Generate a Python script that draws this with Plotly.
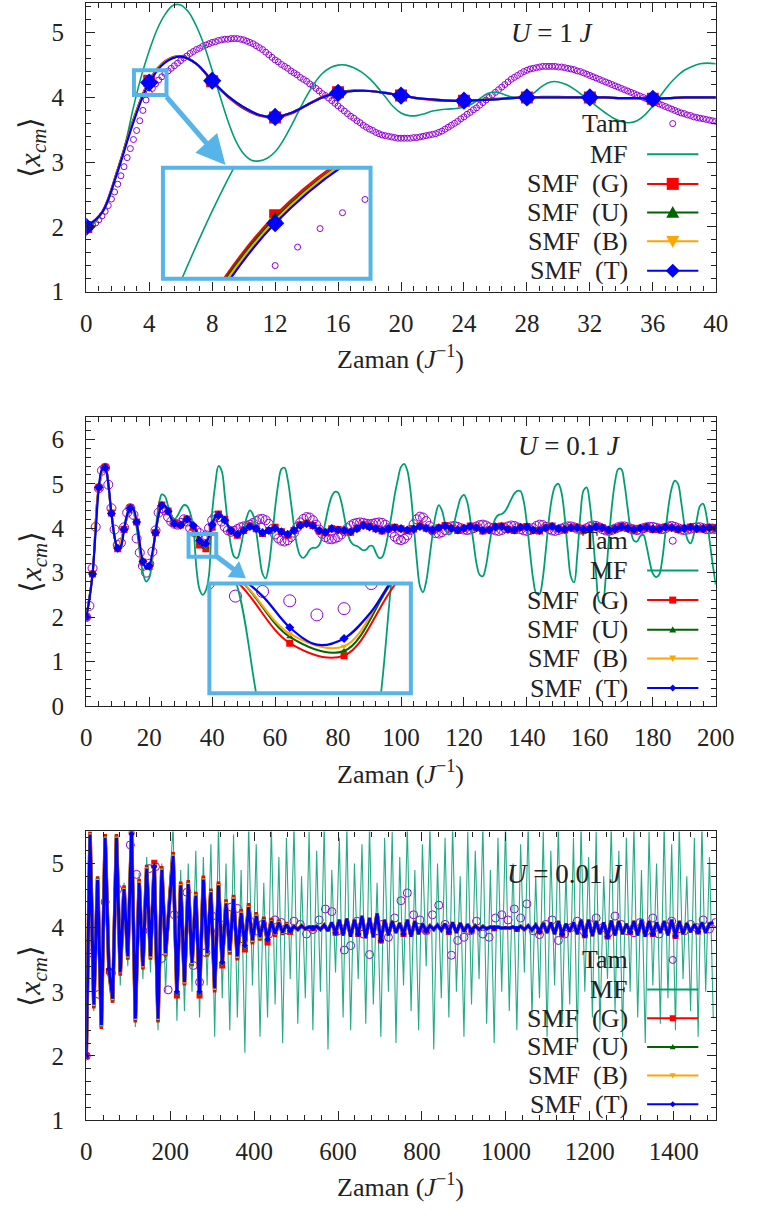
import numpy as np
import plotly.graph_objects as go

W, H = 757, 1227
SERIF = "Liberation Serif"
INK = "#222222"

C_TAM, C_MF = "#9400D3", "#009E73"
C_G, C_U, C_B, C_T = "#FF0000", "#006400", "#FFA500", "#0000FF"
C_BOX = "#56B4E9"

# ======================= U = 1 J =======================
tam1 = [
    2.00, 2.01, 2.03, 2.06, 2.11, 2.17, 2.24, 2.33, 2.43, 2.54,
    2.66, 2.79, 2.93, 3.07, 3.21, 3.35, 3.49, 3.64, 3.80, 3.96,
    4.07, 4.14, 4.21, 4.27, 4.32, 4.37, 4.41, 4.45, 4.49, 4.53,
    4.57, 4.61, 4.64, 4.68, 4.71, 4.74, 4.76, 4.79, 4.81, 4.83,
    4.85, 4.86, 4.88, 4.89, 4.90, 4.90, 4.91, 4.91, 4.91, 4.90,
    4.89, 4.87, 4.85, 4.83, 4.80, 4.77, 4.74, 4.70, 4.66, 4.62,
    4.58, 4.55, 4.51, 4.48, 4.45, 4.41, 4.38, 4.35, 4.31, 4.28,
    4.25, 4.21, 4.18, 4.14, 4.10, 4.06, 4.03, 3.99, 3.95, 3.91,
    3.87, 3.83, 3.79, 3.75, 3.71, 3.68, 3.64, 3.61, 3.57, 3.54,
    3.51, 3.49, 3.46, 3.44, 3.42, 3.41, 3.40, 3.39, 3.38, 3.37,
    3.37, 3.37, 3.37, 3.37, 3.38, 3.38, 3.39, 3.40, 3.41, 3.42,
    3.43, 3.44, 3.46, 3.48, 3.51, 3.54, 3.57, 3.60, 3.63, 3.67,
    3.70, 3.74, 3.77, 3.81, 3.84, 3.88, 3.92, 3.96, 4.00, 4.04,
    4.08, 4.12, 4.16, 4.20, 4.24, 4.28, 4.31, 4.34, 4.37, 4.40,
    4.42, 4.44, 4.45, 4.46, 4.47, 4.48, 4.48, 4.48, 4.48, 4.48,
    4.47, 4.47, 4.46, 4.45, 4.44, 4.43, 4.41, 4.40, 4.38, 4.36,
    4.34, 4.32, 4.30, 4.28, 4.26, 4.24, 4.22, 4.20, 4.18, 4.16,
    4.14, 4.12, 4.10, 4.08, 4.06, 4.04, 4.02, 4.00, 3.98, 3.96,
    3.94, 3.92, 3.90, 3.88, 3.86, 3.84, 3.82, 3.80, 3.78, 3.76,
    3.75, 3.73, 3.72, 3.70, 3.69, 3.68, 3.67, 3.66, 3.65, 3.64,
    3.63,
]
mf1 = [
    2.00, 2.06, 2.22, 2.48, 2.85, 3.30, 3.85, 4.33, 4.72, 5.05,
    5.28, 5.42, 5.43, 5.32, 5.10, 4.80, 4.42, 4.02, 3.64, 3.33,
    3.13, 3.03, 3.02, 3.06, 3.16, 3.33, 3.55, 3.79, 4.02, 4.22,
    4.37, 4.46, 4.50, 4.50, 4.46, 4.39, 4.29, 4.16, 4.01, 3.86,
    3.76, 3.72, 3.72, 3.75, 3.79, 3.81, 3.82, 3.83, 3.85, 3.90,
    3.98, 4.06, 4.08, 4.05, 4.01, 3.99, 4.01, 4.08, 4.18, 4.24,
    4.24, 4.20, 4.13, 4.04, 3.95, 3.85, 3.76, 3.68, 3.63, 3.61,
    3.64, 3.73, 3.87, 4.03, 4.19, 4.32, 4.42, 4.48, 4.52, 4.53,
    4.52,
]
smf1_G = [
    2.00, 2.23, 2.89, 3.66, 4.26, 4.56, 4.64, 4.52, 4.25, 4.01,
    3.83, 3.72, 3.69, 3.75, 3.88, 4.01, 4.08, 4.11, 4.10, 4.07,
    4.03, 3.99, 3.96, 3.95, 3.95, 3.96, 3.98, 3.99, 4.00, 4.01,
    4.01, 4.00, 4.00, 4.00, 3.99, 3.99, 3.98, 3.99, 4.00, 4.00,
    4.00,
]
smf1_U = [
    2.00, 2.22, 2.88, 3.65, 4.25, 4.55, 4.63, 4.52, 4.25, 4.02,
    3.84, 3.73, 3.70, 3.76, 3.88, 4.00, 4.08, 4.10, 4.10, 4.07,
    4.03, 3.99, 3.97, 3.95, 3.95, 3.96, 3.97, 3.99, 4.00, 4.00,
    4.00, 4.00, 4.00, 4.00, 3.99, 3.99, 3.98, 3.99, 4.00, 4.00,
    4.00,
]
smf1_B = [
    2.00, 2.22, 2.87, 3.64, 4.24, 4.55, 4.63, 4.52, 4.26, 4.02,
    3.85, 3.73, 3.70, 3.76, 3.88, 4.00, 4.07, 4.10, 4.10, 4.07,
    4.03, 3.99, 3.97, 3.95, 3.95, 3.96, 3.97, 3.99, 4.00, 4.00,
    4.00, 4.00, 4.00, 4.00, 3.99, 3.99, 3.98, 3.99, 4.00, 4.00,
    4.00,
]
smf1_T = [
    2.00, 2.22, 2.86, 3.62, 4.23, 4.54, 4.63, 4.52, 4.26, 4.02,
    3.85, 3.73, 3.70, 3.76, 3.88, 4.00, 4.07, 4.10, 4.10, 4.07,
    4.03, 3.99, 3.97, 3.95, 3.95, 3.96, 3.97, 3.99, 4.00, 4.00,
    4.00, 4.00, 4.00, 4.00, 3.99, 3.99, 3.98, 3.99, 4.00, 4.00,
    4.00,
]
t_tam1 = np.linspace(0, 40, 201)
t_mf1 = np.linspace(0, 40, 81)
t_smf1 = np.arange(0, 41)

# ======================= U = 0.1 J =======================
tam2 = [
    2.00, 2.25, 3.10, 4.03, 4.90, 5.30, 5.36, 4.98, 4.45, 3.97,
    3.62, 3.67, 4.02, 4.35, 4.45, 4.30, 3.77, 3.45, 3.15, 3.00,
    3.20, 3.47, 3.95, 4.35, 4.45, 4.40, 4.25, 4.15, 4.10, 4.08,
    4.12, 4.20, 4.15, 4.00, 3.92, 3.95, 3.89, 3.80, 3.84, 4.00,
    4.18, 4.27, 4.25, 4.15, 4.03, 3.95, 3.92, 3.94, 3.98, 4.02,
    4.04, 4.05, 4.08, 4.12, 4.16, 4.20, 4.21, 4.18, 4.10, 3.98,
    3.86, 3.77, 3.72, 3.70, 3.73, 3.80, 3.90, 4.02, 4.13, 4.21,
    4.25, 4.24, 4.18, 4.08, 3.97, 3.87, 3.80, 3.76, 3.75, 3.77,
    3.80, 3.86, 3.93, 4.00, 4.06, 4.10, 4.12, 4.13, 4.12, 4.10,
    4.09, 4.10, 4.12, 4.13, 4.12, 4.08, 4.00, 3.90, 3.81, 3.75,
    3.73, 3.76, 3.84, 3.96, 4.09, 4.20, 4.26, 4.24, 4.16, 4.05,
    3.95, 3.89, 3.88, 3.91, 3.96, 4.01, 4.04, 4.05, 4.03, 4.00,
    3.97, 3.96, 3.97, 4.00, 4.04, 4.07, 4.08, 4.06, 4.02, 3.98,
    3.95, 3.94, 3.96, 4.00, 4.04, 4.06, 4.05, 4.02, 3.98, 3.95,
    3.94, 3.96, 4.00, 4.05, 4.08, 4.07, 4.03, 3.98, 3.95, 3.94,
    3.96, 3.99, 4.02, 4.04, 4.04, 4.02, 3.99, 3.97, 3.97, 4.00,
    4.04, 4.06, 4.05, 4.02, 3.98, 3.95, 3.94, 3.96, 3.99, 4.02,
    4.04, 4.04, 4.02, 3.99, 3.97, 3.96, 3.97, 4.00, 4.02, 4.03,
    4.03, 4.01, 3.99, 3.98, 4.00, 4.04, 4.05, 4.03, 4.00, 3.97,
    3.96, 3.97, 3.99, 4.01, 4.02, 4.02, 4.00, 3.98, 3.98, 3.99,
    3.98,
]
mf2 = [
    2.00, 2.40, 2.97, 3.95, 4.92, 5.32, 5.36, 5.00, 4.33, 3.78,
    3.52, 3.58, 3.97, 4.35, 4.52, 4.42, 4.00, 3.45, 3.00, 2.80,
    2.88, 3.30, 3.95, 4.50, 4.76, 4.72, 4.50, 4.28, 4.20, 4.28,
    4.42, 4.52, 4.50, 4.35, 4.02, 3.10, 2.62, 2.50, 2.60, 2.95,
    4.35, 5.00, 5.40, 5.30, 4.75, 4.10, 3.60, 3.36, 3.33, 3.55,
    3.92, 4.25, 4.40, 4.30, 3.92, 3.40, 2.98, 2.87, 3.15, 3.75,
    4.45, 5.00, 5.33, 5.36, 5.10, 4.60, 4.05, 3.60, 3.38, 3.33,
    3.40, 3.52, 3.56, 3.56, 3.62, 3.82, 4.15, 4.48, 4.72, 4.82,
    4.80, 4.60, 4.25, 3.90, 3.70, 3.62, 3.60, 3.55, 3.50, 3.52,
    3.60, 3.60, 3.45, 3.33, 3.35, 3.55, 3.90, 4.30, 4.75, 5.10,
    5.38, 5.45, 5.30, 4.85, 4.10, 3.30, 2.70, 2.56, 2.80, 3.30,
    3.85, 4.30, 4.52, 4.40, 4.10, 3.86, 3.90, 4.15, 4.45, 4.68,
    4.75, 4.60, 4.20, 3.70, 3.20, 2.95, 2.92, 3.15, 3.60, 4.00,
    4.22, 4.30, 4.32, 4.38, 4.50, 4.65, 4.78, 4.84, 4.83, 4.60,
    4.10, 3.45, 2.85, 2.53, 2.52, 2.85, 3.50, 4.20, 4.70, 4.95,
    5.00, 4.80, 4.25, 3.50, 2.90, 2.78, 3.40, 4.30, 4.85, 4.92,
    4.55, 3.80, 2.95, 2.35, 2.32, 2.85, 3.70, 4.50, 5.05, 5.33,
    5.33, 5.00, 4.45, 3.95, 3.72, 3.70, 3.82, 3.85, 3.60, 3.25,
    2.98, 2.90, 2.95, 3.30, 3.90, 4.50, 4.90, 5.07, 5.00, 4.60,
    4.10, 3.75, 3.66, 3.85, 4.20, 4.50, 4.55, 4.30, 3.75, 3.20,
    2.73,
]
smf2_T = [
    2.00, 2.40, 2.97, 3.95, 4.92, 5.32, 5.36, 5.00, 4.33, 3.80,
    3.55, 3.60, 3.97, 4.30, 4.45, 4.42, 4.14, 3.65, 3.25, 3.10,
    3.15, 3.45, 3.90, 4.30, 4.51, 4.50, 4.38, 4.22, 4.10, 4.06,
    4.07, 4.15, 4.20, 4.15, 4.06, 3.92, 3.72, 3.61, 3.65, 3.82,
    4.08, 4.25, 4.29, 4.27, 4.18, 4.06, 3.95, 3.88, 3.86, 3.90,
    3.95, 4.00, 4.04, 4.03, 3.99, 3.94, 3.90, 3.91, 3.95, 3.98,
    4.00, 3.96, 3.92, 3.88, 3.86, 3.89, 3.95, 4.01, 4.06, 4.09,
    4.10, 4.09, 4.06, 4.00, 3.95, 3.92, 3.91, 3.95, 3.99, 3.98,
    3.96, 3.96, 3.95, 3.94, 3.92, 3.95, 3.99, 4.03, 4.06, 4.05,
    4.03, 4.01, 3.99, 3.97, 3.95, 3.96, 3.99, 4.00, 4.01, 4.00,
    3.99, 3.98, 3.96, 3.95, 3.98, 4.02, 4.04, 4.03, 4.00, 3.97,
    3.96, 3.98, 4.01, 4.04, 4.05, 4.03, 4.00, 3.97, 3.96, 3.97,
    4.00, 4.03, 4.04, 4.03, 4.01, 3.98, 3.95, 3.94, 3.96, 4.00,
    4.03, 4.05, 4.04, 4.01, 3.97, 3.95, 3.96, 3.99, 4.02, 4.04,
    4.03, 4.00, 3.96, 3.94, 3.95, 3.98, 4.01, 4.03, 4.04, 4.02,
    3.99, 3.97, 3.97, 3.99, 4.01, 4.02, 4.01, 3.99, 3.97, 3.96,
    3.98, 4.01, 4.03, 4.03, 4.01, 3.98, 3.96, 3.96, 3.98, 4.01,
    4.03, 4.02, 4.00, 3.98, 3.97, 3.98, 4.00, 4.02, 4.02, 4.00,
    3.98, 3.97, 3.98, 4.00, 4.02, 4.02, 4.01, 3.99, 3.98, 3.98,
    4.00, 4.01, 4.02, 4.01, 3.99, 3.98, 3.99, 4.00, 4.01, 4.01,
    4.00,
]
smf2_G = [
    2.00, 2.97, 4.92, 5.37, 4.34, 3.54, 3.97, 4.46, 4.14, 3.24,
    3.14, 3.90, 4.52, 4.39, 4.11, 4.07, 4.21, 4.02, 3.62, 3.54,
    4.02, 4.32, 4.20, 3.94, 3.84, 3.95, 4.05, 3.99, 3.88, 3.95,
    4.02, 3.92, 3.84, 3.95, 4.08, 4.11, 4.06, 3.94, 3.90, 3.99,
    3.97, 3.94, 3.91, 4.00, 4.07, 4.04, 3.99, 3.94, 3.99, 4.02,
    3.99, 3.95, 3.98, 4.05, 4.00, 3.95, 4.01, 4.06, 4.00, 3.95,
    4.00, 4.05, 4.01, 3.94, 3.96, 4.04, 4.05, 3.97, 3.95, 4.02,
    4.04, 3.95, 3.94, 4.01, 4.05, 3.99, 3.96, 4.01, 4.02, 3.96,
    3.98, 4.04, 4.01, 3.95, 3.98, 4.04, 4.00, 3.96, 4.00, 4.03,
    3.97, 3.98, 4.03, 4.01, 3.97, 4.00, 4.03, 3.98, 3.99, 4.02,
    4.00,
]
smf2_U = [
    2.00, 2.97, 4.92, 5.36, 4.33, 3.55, 3.97, 4.45, 4.14, 3.25,
    3.15, 3.90, 4.51, 4.38, 4.10, 4.07, 4.20, 4.05, 3.66, 3.57,
    4.06, 4.29, 4.18, 3.95, 3.86, 3.95, 4.04, 3.99, 3.90, 3.95,
    4.00, 3.92, 3.86, 3.95, 4.06, 4.10, 4.06, 3.95, 3.91, 3.99,
    3.96, 3.95, 3.92, 3.99, 4.06, 4.03, 3.99, 3.95, 3.99, 4.01,
    3.99, 3.96, 3.98, 4.04, 4.00, 3.96, 4.01, 4.05, 4.00, 3.96,
    4.00, 4.04, 4.01, 3.95, 3.96, 4.03, 4.04, 3.97, 3.96, 4.02,
    4.03, 3.96, 3.95, 4.01, 4.04, 3.99, 3.97, 4.01, 4.02, 3.97,
    3.98, 4.03, 4.01, 3.96, 3.98, 4.03, 4.00, 3.97, 4.00, 4.02,
    3.98, 3.98, 4.02, 4.01, 3.98, 4.00, 4.02, 3.98, 3.99, 4.01,
    4.00,
]
smf2_B = [
    2.00, 2.97, 4.92, 5.36, 4.33, 3.55, 3.97, 4.45, 4.14, 3.25,
    3.15, 3.90, 4.51, 4.38, 4.10, 4.07, 4.20, 4.05, 3.68, 3.60,
    4.07, 4.29, 4.18, 3.95, 3.86, 3.95, 4.04, 3.99, 3.90, 3.95,
    4.00, 3.92, 3.86, 3.95, 4.06, 4.10, 4.06, 3.95, 3.91, 3.99,
    3.96, 3.95, 3.92, 3.99, 4.06, 4.03, 3.99, 3.95, 3.99, 4.01,
    3.99, 3.96, 3.98, 4.03, 4.00, 3.96, 4.01, 4.05, 4.00, 3.96,
    4.00, 4.04, 4.01, 3.95, 3.96, 4.03, 4.04, 3.97, 3.96, 4.02,
    4.03, 3.96, 3.95, 4.01, 4.04, 3.99, 3.97, 4.01, 4.02, 3.97,
    3.98, 4.03, 4.01, 3.96, 3.98, 4.03, 4.00, 3.97, 4.00, 4.02,
    3.98, 3.98, 4.02, 4.01, 3.98, 4.00, 4.02, 3.98, 3.99, 4.01,
    4.00,
]
t2 = np.arange(0, 201)
t2e = np.arange(0, 201, 2)

# ======================= U = 0.01 J =======================
tam3 = [
    2.00, 3.60, 2.96, 4.40, 3.29, 4.60, 4.10, 5.29, 4.83, 3.95,
    4.92, 4.95, 3.52, 3.03, 4.20, 3.85, 4.55, 3.41, 3.15, 3.61,
    4.18, 3.95, 4.05, 4.32, 4.30, 3.82, 4.10, 3.95, 4.05, 3.90,
    4.12, 4.08, 3.96, 4.10, 4.05, 3.90, 3.97, 4.12, 4.29, 4.25,
    3.95, 3.65, 3.72, 4.10, 3.90, 3.58, 3.95, 4.05, 3.85, 4.15,
    4.42, 4.54, 4.20, 4.12, 3.95, 4.20, 4.35, 4.05, 3.57, 3.80,
    3.85, 3.95, 4.10, 3.90, 3.85, 4.15, 4.20, 4.12, 4.29, 4.15,
    4.37, 3.95, 3.89, 4.05, 4.12, 3.80, 3.90, 4.00, 4.10, 3.95,
    4.05, 4.15, 4.00, 3.92, 4.18, 4.05, 3.95, 3.92, 4.08, 3.95,
    4.15, 3.90, 4.02, 4.10, 3.98, 3.95, 4.05, 4.00, 4.12, 3.98,
    4.08,
]
mf3 = [
    2.00, 5.45, 2.70, 4.80, 2.45, 5.40, 3.20, 2.85, 5.45, 3.10,
    4.70, 3.40, 5.50, 2.45, 4.85, 3.20, 5.10, 3.30, 5.05, 2.40,
    5.00, 3.00, 4.60, 5.60, 2.55, 4.90, 2.70, 5.00, 3.00, 5.20,
    2.60, 5.10, 3.10, 5.30, 2.30, 5.60, 2.90, 5.00, 2.40, 5.45,
    2.60, 4.90, 2.05, 5.60, 3.10, 5.30, 2.30, 4.70, 2.60, 5.60,
    2.80, 5.10, 2.20, 5.40, 3.20, 5.60, 2.50, 4.80, 2.90, 5.50,
    2.40, 5.20, 3.00, 5.60, 2.10, 4.90, 3.30, 5.40, 2.60, 5.60,
    2.40, 5.00, 3.20, 5.30, 2.50, 5.60, 2.80, 4.70, 2.30, 5.40,
    3.00, 5.50, 2.20, 5.10, 3.10, 5.60, 2.70, 4.90, 2.40, 5.30,
    3.40, 5.60, 2.10, 5.00, 2.90, 5.40, 2.60, 5.60, 3.00, 4.80,
    2.30, 5.50, 2.80, 5.20, 3.20, 5.60, 2.50, 4.90, 2.20, 5.40,
    3.00, 5.60, 2.70, 5.00, 2.40, 5.30, 3.30, 5.60, 2.60, 4.80,
    2.90, 5.50, 2.30, 5.20, 3.10, 5.60, 2.50, 4.90, 2.80, 5.40,
    2.20, 5.60, 3.00, 5.10, 2.60, 5.50, 2.40, 4.80, 3.20, 5.60,
    2.70, 5.20, 2.30, 5.40, 3.00, 5.60, 2.60, 4.90, 2.20, 5.50,
    3.10, 5.00, 2.50, 5.60, 2.90, 5.30, 2.40, 5.60, 3.20, 4.80,
    2.70, 5.40, 2.30, 5.60, 3.00, 5.10, 2.60,
]
# the four SMF variants split apart only during the early strong oscillations
smf3_T_head = [
    2.00, 5.45, 2.80, 4.74, 2.48, 5.40, 3.35, 2.89, 5.40, 3.30,
    4.60, 3.55, 5.46, 2.58, 4.70, 3.40, 4.92, 3.55, 4.95, 2.58,
    4.90, 3.60, 4.35, 5.12, 3.00, 4.66, 3.15, 4.68, 3.45, 4.50,
    3.00, 4.75, 3.60, 4.55, 3.05, 4.66, 3.46, 4.38, 3.64, 4.45,
    3.55, 4.23, 3.72, 4.32, 3.80, 4.18, 3.85, 4.12, 3.82, 4.10,
    3.90, 4.08, 3.92, 4.05, 3.95,
]
smf3_G_head = [
    2.00, 5.50, 2.74, 4.80, 2.42, 5.46, 3.32, 2.83, 5.46, 3.25,
    4.66, 3.50, 5.52, 2.52, 4.76, 3.35, 4.98, 3.50, 5.01, 2.52,
    4.96, 3.55, 4.40, 5.18, 2.94, 4.72, 3.10, 4.74, 3.40, 4.56,
    2.94, 4.81, 3.55, 4.61, 2.99, 4.72, 3.41, 4.44, 3.58, 4.51,
    3.49, 4.29, 3.66, 4.38, 3.74, 4.24, 3.80, 4.17, 3.77, 4.15,
    3.86, 4.12, 3.89, 4.08, 3.93,
]
smf3_U_head = [
    2.00, 5.48, 2.77, 4.77, 2.45, 5.43, 3.33, 2.86, 5.43, 3.28,
    4.63, 3.52, 5.49, 2.55, 4.73, 3.37, 4.95, 3.52, 4.98, 2.55,
    4.93, 3.57, 4.37, 5.15, 2.97, 4.69, 3.12, 4.71, 3.42, 4.53,
    2.97, 4.78, 3.57, 4.58, 3.02, 4.69, 3.43, 4.41, 3.61, 4.48,
    3.52, 4.26, 3.69, 4.35, 3.77, 4.21, 3.82, 4.14, 3.80, 4.12,
    3.88, 4.10, 3.90, 4.06, 3.94,
]
smf3_B_head = [
    2.00, 5.47, 2.78, 4.76, 2.46, 5.42, 3.34, 2.87, 5.42, 3.29,
    4.62, 3.53, 5.48, 2.56, 4.72, 3.38, 4.94, 3.53, 4.97, 2.56,
    4.92, 3.58, 4.36, 5.14, 2.98, 4.68, 3.13, 4.70, 3.43, 4.52,
    2.98, 4.77, 3.58, 4.57, 3.03, 4.68, 3.44, 4.40, 3.62, 4.47,
    3.53, 4.25, 3.70, 4.34, 3.78, 4.20, 3.83, 4.13, 3.81, 4.11,
    3.89, 4.09, 3.91, 4.06, 3.94,
]
smf3_tail = [
    4.02, 3.97, 4.03, 3.98, 4.01, 3.99, 4.02, 3.97, 4.04, 3.95,
    4.08, 3.92, 4.12, 3.88, 4.14, 3.86, 4.12, 3.90, 4.18, 3.84,
    4.15, 3.85, 4.22, 3.80, 4.12, 3.88, 4.10, 3.92, 4.07, 3.90,
    4.12, 3.86, 4.10, 3.90, 4.06, 3.95, 4.03, 3.97, 4.04, 3.96,
    4.06, 3.93, 4.08, 3.92, 4.07, 3.94, 4.05, 3.95, 4.03, 3.97,
    4.02, 3.98, 4.01, 3.99, 4.01, 3.99, 4.00, 3.99, 4.01, 3.98,
    4.02, 3.97, 4.03, 3.96, 4.04, 3.94, 4.07, 3.92, 4.08, 3.90,
    4.10, 3.90, 4.06, 3.94, 4.08, 3.90, 4.12, 3.88, 4.12, 3.87,
    4.10, 3.90, 4.08, 3.86, 4.11, 3.88, 4.10, 3.90, 4.06, 3.93,
    4.10, 3.88, 4.12, 3.86, 4.10, 3.90, 4.08, 3.92, 4.10, 3.88,
    4.12, 3.87, 4.10, 3.90, 4.07, 3.93, 4.05, 3.94, 4.08, 3.92,
    4.06, 4.08,
]
smf3_T = smf3_T_head + smf3_tail
smf3_G = smf3_G_head + smf3_tail
smf3_U = smf3_U_head + smf3_tail
smf3_B = smf3_B_head + smf3_tail
t3 = np.arange(0, 1500, 9)
t3_tam = np.arange(0, 1501, 15)

assert len(tam1) == len(t_tam1) and len(mf1) == len(t_mf1)
assert all(len(s) == len(t_smf1) for s in (smf1_G, smf1_U, smf1_B, smf1_T))
assert len(tam2) == len(t2) and len(mf2) == len(t2) and len(smf2_T) == len(t2)
assert all(len(s) == len(t2e) for s in (smf2_G, smf2_U, smf2_B))
assert len(mf3) == len(t3) and len(smf3_T) == len(t3) and len(tam3) == len(t3_tam)


def fx(p):
    return p / W


def fy(p):
    return 1 - p / H


fig = go.Figure()


def tam_trace(t, v, size, xa, ya):
    return go.Scatter(x=t, y=v, mode="markers", xaxis=xa, yaxis=ya, hoverinfo="skip",
                      marker=dict(symbol="circle-open", size=size, color=C_TAM,
                                  line=dict(width=1, color=C_TAM)))


def line_trace(t, v, color, width, xa, ya, shape="spline", opacity=1.0):
    return go.Scatter(x=t, y=v, mode="lines", xaxis=xa, yaxis=ya, hoverinfo="skip",
                      opacity=opacity, line=dict(color=color, width=width, shape=shape))


def mark_trace(t, v, color, symbol, size, xa, ya):
    return go.Scatter(x=t, y=v, mode="markers", xaxis=xa, yaxis=ya, hoverinfo="skip",
                      marker=dict(symbol=symbol, size=size, color=color, line=dict(width=0)))


# ---- panel 1 (main frame + zoom inset)
SMF1 = [(smf1_G, C_G, "square", 12), (smf1_U, C_U, "triangle-up", 12),
        (smf1_B, C_B, "triangle-down", 12), (smf1_T, C_T, "diamond", 14)]
for xa, ya in (("x", "y"), ("x4", "y4")):
    fig.add_trace(tam_trace(t_tam1, tam1, 6, xa, ya))
    fig.add_trace(line_trace(t_mf1, mf1, C_MF, 1.6, xa, ya))
    for vals, col, sym, ms in SMF1:
        fig.add_trace(line_trace(t_smf1, vals, col, 2.2, xa, ya))
        fig.add_trace(mark_trace(t_smf1[0:37:4], vals[0:37:4], col, sym, ms, xa, ya))

# ---- panel 2 (main frame + zoom inset)
for xa, ya, tsz in (("x2", "y2", 9), ("x5", "y5", 12)):
    fig.add_trace(tam_trace(t2, tam2, tsz, xa, ya))
    fig.add_trace(line_trace(t2, mf2, C_MF, 1.8, xa, ya))
    for vals, col, sym, ms in ((smf2_G, C_G, "square", 7), (smf2_U, C_U, "triangle-up", 6),
                               (smf2_B, C_B, "triangle-down", 6)):
        fig.add_trace(line_trace(t2e, vals, col, 2.0, xa, ya))
        fig.add_trace(mark_trace(t2e, vals, col, sym, ms, xa, ya))
    fig.add_trace(line_trace(t2, smf2_T, C_T, 2.2, xa, ya))
    fig.add_trace(mark_trace(t2[::2], smf2_T[::2], C_T, "diamond", 7, xa, ya))

# ---- panel 3
fig.add_trace(tam_trace(t3_tam, tam3, 8, "x3", "y3"))
fig.add_trace(line_trace(t3, mf3, C_MF, 1.1, "x3", "y3", shape="linear", opacity=0.85))
for vals, col, sym, ms, lw in ((smf3_G, C_G, "square", 6, 3.6), (smf3_U, C_U, "triangle-up", 5, 3.4),
                               (smf3_B, C_B, "triangle-down", 5, 3.4), (smf3_T, C_T, "diamond", 5, 3.0)):
    fig.add_trace(line_trace(t3, vals, col, lw, "x3", "y3", shape="linear"))
    fig.add_trace(mark_trace(t3[::6], vals[::6], col, sym, ms, "x3", "y3"))


# ---- axes
XD = [fx(83), fx(734)]


def frame_axis(domain, rng, dtick, mdtick, anchor, standoff):
    return dict(domain=domain, range=rng, dtick=dtick, tick0=0, showgrid=False, zeroline=False,
                showline=True, linewidth=1.4, linecolor=INK, mirror="ticks",
                ticks="inside", ticklen=9, tickwidth=1.1, tickcolor=INK,
                minor=dict(ticks="inside", ticklen=5, tickwidth=1, tickcolor=INK,
                           dtick=mdtick, tick0=0, showgrid=False),
                tickfont=dict(family=SERIF, size=25, color=INK),
                ticklabelstandoff=standoff, anchor=anchor, fixedrange=True)


def hidden_axis(domain, rng, anchor):
    return dict(domain=domain, range=rng, visible=False, anchor=anchor, fixedrange=True)


P1Y = [fy(295), fy(3)]
P2Y = [fy(714), fy(422)]
P3Y = [fy(1133), fy(841)]
IN1 = (162.3, 169.7, 377.0, 282.0)
IN2 = (210.3, 590.3, 418.7, 701.3)

fig.update_layout(
    width=W, height=H, margin=dict(l=0, r=0, t=0, b=0),
    paper_bgcolor="white", plot_bgcolor="white", showlegend=False,
    xaxis=frame_axis(XD, [0, 40], 4, 0.8, "y", 9),
    yaxis=frame_axis(P1Y, [1, 5.46], 1, 0.2, "x", 16),
    xaxis2=frame_axis(XD, [0, 200], 20, 4, "y2", 9),
    yaxis2=frame_axis(P2Y, [0, 6.5], 1, 0.2, "x2", 16),
    xaxis3=frame_axis(XD, [0, 1500], 200, 40, "y3", 9),
    yaxis3=frame_axis(P3Y, [1, 5.5], 1, 0.2, "x3", 16),
    xaxis4=hidden_axis([fx(IN1[0]), fx(IN1[2])], [3.0, 4.85], "y4"),
    yaxis4=hidden_axis([fy(IN1[3]), fy(IN1[1])], [4.02, 4.44], "x4"),
    xaxis5=hidden_axis([fx(IN2[0]), fx(IN2[2])], [33.04, 40.46], "y5"),
    yaxis5=hidden_axis([fy(IN2[3]), fy(IN2[1])], [3.3, 4.0], "x5"),
)

shapes = []
annotations = []

# zoom frames and the regions they magnify
for (x0, y0, x1, y1) in (IN1, IN2):
    shapes.append(dict(type="rect", xref="paper", yref="paper", x0=fx(x0), x1=fx(x1),
                       y0=fy(y1), y1=fy(y0), line=dict(color=C_BOX, width=4)))
shapes.append(dict(type="rect", xref="x", yref="y", x0=3.03, x1=5.1, y0=4.04, y1=4.42,
                   line=dict(color=C_BOX, width=4)))
shapes.append(dict(type="rect", xref="x2", yref="y2", x0=32.5, x1=41.3, y0=3.36, y1=3.87,
                   line=dict(color=C_BOX, width=4)))


def arrow(tail, tip, head_len, head_half, width):
    """Thick shaft plus filled triangular head, in pixel positions of the page."""
    (x0, y0), (x1, y1) = tail, tip
    d = np.hypot(x1 - x0, y1 - y0)
    ux, uy = (x1 - x0) / d, (y1 - y0) / d
    bx, by = x1 - head_len * ux, y1 - head_len * uy
    shapes.append(dict(type="line", xref="paper", yref="paper", x0=fx(x0), y0=fy(y0),
                       x1=fx(bx + 2 * ux), y1=fy(by + 2 * uy), line=dict(color=C_BOX, width=width)))
    pts = [(x1, y1), (bx - head_half * uy, by + head_half * ux), (bx + head_half * uy, by - head_half * ux)]
    path = "M" + "L".join(f"{fx(a):.5f},{fy(b):.5f}" for a, b in pts) + "Z"
    shapes.append(dict(type="path", xref="paper", yref="paper", path=path,
                       fillcolor=C_BOX, line=dict(color=C_BOX, width=0)))


arrow((166, 98), (227, 167), 30, 15, 5)
arrow((218, 563), (248, 585), 16, 10, 5)


def marker_shape(kind, px, py, size, color):
    r = size / 2
    base = dict(xref="paper", yref="paper", xsizemode="pixel", ysizemode="pixel",
                xanchor=fx(px), yanchor=fy(py))
    if kind == "circle":
        return dict(type="circle", x0=-r, x1=r, y0=-r, y1=r, fillcolor="rgba(0,0,0,0)",
                    line=dict(color=color, width=1), **base)
    if kind == "square":
        path = f"M{-r},{-r}L{r},{-r}L{r},{r}L{-r},{r}Z"
    elif kind == "up":
        path = f"M{-r},{-0.8 * r}L{r},{-0.8 * r}L0,{r}Z"
    elif kind == "down":
        path = f"M{-r},{0.8 * r}L{r},{0.8 * r}L0,{-r}Z"
    else:
        path = f"M0,{r}L{r},0L0,{-r}L{-r},0Z"
    return dict(type="path", path=path, fillcolor=color, line=dict(color=color, width=0), **base)


LABELS = ["Tam", "MF", "SMF\u2002(G)", "SMF\u2002(U)", "SMF\u2002(B)", "SMF\u2002(T)"]
KINDS = [("circle", C_TAM), (None, C_MF), ("square", C_G), ("up", C_U), ("down", C_B), ("diamond", C_T)]


def legend(rows_y, sizes, lw):
    for label, (kind, col), y, sz in zip(LABELS, KINDS, rows_y, sizes):
        annotations.append(dict(xref="paper", yref="paper", x=fx(645), y=fy(y), xanchor="right",
                                yanchor="middle", text=label, showarrow=False,
                                font=dict(family=SERIF, size=26, color=INK)))
        if kind != "circle":
            shapes.append(dict(type="line", xref="paper", yref="paper", x0=fx(663), x1=fx(716),
                               y0=fy(y), y1=fy(y), line=dict(color=col, width=lw)))
        if kind is not None:
            shapes.append(marker_shape(kind, 689.5, y, sz, col))


legend([125, 156, 186, 215, 244, 274], [6, 0, 12, 13, 13, 14], 2)
legend([547, 577, 607, 637, 666, 696], [7, 0, 7, 7, 7, 7], 2)
legend([971, 1001, 1030, 1059, 1088, 1117], [7, 0, 6, 6, 6, 6], 2)

# panel captions
for txt, x, y in (("<i>U</i> = 1 <i>J</i>", 565, 33), ("<i>U</i> = 0.1 <i>J</i>", 583, 451),
                  ("<i>U</i> = 0.01 <i>J</i>", 578, 884)):
    annotations.append(dict(xref="paper", yref="paper", x=fx(x), y=fy(y), text=txt,
                            showarrow=False, xanchor="center", yanchor="middle",
                            font=dict(family=SERIF, size=27, color=INK)))

# axis titles
for ymid, ytitle in ((149, 362), (568, 781), (987, 1199)):
    annotations.append(dict(xref="paper", yref="paper", x=fx(27), y=fy(ymid), textangle=-90,
                            text="\u27e8<i>x</i><sub><i>cm</i></sub>\u27e9", showarrow=False,
                            xanchor="center", yanchor="middle",
                            font=dict(family=SERIF, size=30, color=INK)))
    annotations.append(dict(xref="paper", yref="paper", x=fx(408), y=fy(ytitle),
                            text="Zaman (<i>J</i><sup>\u22121</sup>)", showarrow=False,
                            xanchor="center", yanchor="middle",
                            font=dict(family=SERIF, size=26, color=INK)))

fig.update_layout(shapes=shapes, annotations=annotations)
fig.write_html("out.html")
